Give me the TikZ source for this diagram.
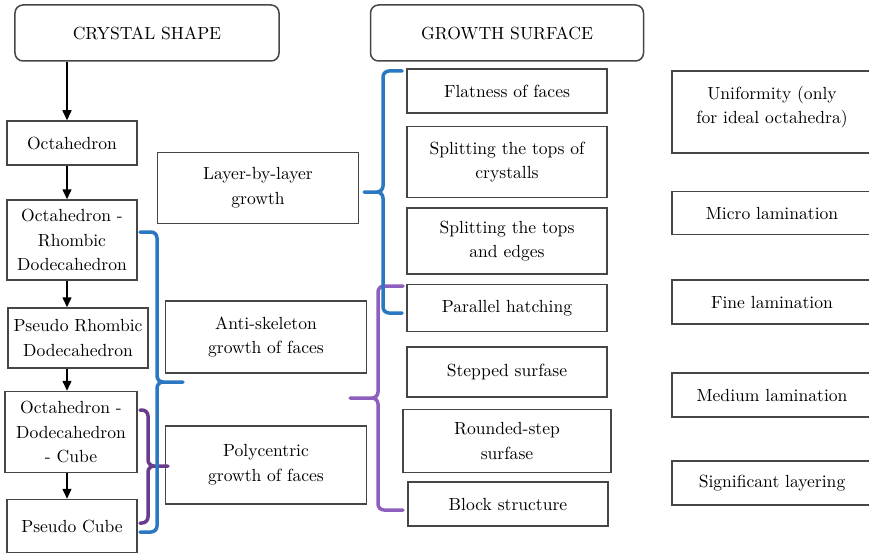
\documentclass[tikz,border=0pt]{standalone}
\usepackage{tikz}
\usetikzlibrary{arrows.meta}

\definecolor{braceblue}{RGB}{43,120,194}
\definecolor{bracepurple}{RGB}{106,60,140}
\definecolor{bracelilac}{RGB}{143,95,191}
\definecolor{boxgray}{RGB}{70,70,70}

\begin{document}
\begin{tikzpicture}[x=0.2mm,y=-0.2mm,>={Triangle[length=2mm,width=1.8mm]},
  font=\rmfamily\fontsize{10}{14}\selectfont,
  box/.style={draw=boxgray,line width=0.3mm,align=center,inner sep=0.6mm},
  head/.style={box,rounded corners=1.6mm,minimum height=11.2mm},
  flow/.style={->,line width=0.3mm},
  bline/.style={line width=0.7mm,rounded corners=1.2mm,line cap=round}]
  \useasboundingbox (0,0) rectangle (869,555);
  % column headers
  \node[head,minimum width=52.8mm] (crystal) at (147,33) {CRYSTAL SHAPE};
  \node[head,minimum width=54.6mm] (growth) at (507,33) {GROWTH SURFACE};
  % crystal shapes, one under the other
  \node[box,minimum width=26mm,minimum height=8.8mm] (octa) at (72,143) {Octahedron};
  \node[box,minimum width=26mm,minimum height=16mm] (odr) at (72,240) {Octahedron -\\Rhombic\\Dodecahedron};
  \node[box,minimum width=28mm,minimum height=12mm] (prd) at (78,338) {Pseudo Rhombic\\Dodecahedron};
  \node[box,minimum width=26.4mm,minimum height=16.2mm] (odc) at (71,432) {Octahedron -\\Dodecahedron\\- Cube};
  \node[box,minimum width=26mm,minimum height=10.6mm] (pc) at (72,526) {Pseudo Cube};
  \coordinate (spine) at (67,0);
  \draw[flow] (crystal.south -| spine) -- (octa.north -| spine);
  \foreach \a/\b in {octa/odr,odr/prd,prd/odc,odc/pc}
    \draw[flow] (\a.south -| spine) -- (\b.north -| spine);
  % growth mechanisms
  \node[box,minimum width=40.2mm,minimum height=14.2mm] (layer) at (258,188) {Layer-by-layer\\growth};
  \node[box,minimum width=40.2mm,minimum height=14.4mm] (anti) at (266,337) {Anti-skeleton\\growth of faces};
  \node[box,minimum width=40.2mm,minimum height=15.6mm] (poly) at (266,465) {Polycentric\\growth of faces};
  % surface features
  \node[box,minimum width=40mm,minimum height=8.8mm] (flat) at (507,91) {Flatness of faces};
  \node[box,minimum width=40mm,minimum height=14.2mm] (tops) at (507,162) {Splitting the tops of\\crystalls};
  \node[box,minimum width=40mm,minimum height=13.2mm] (edges) at (507,241) {Splitting the tops\\and edges};
  \node[box,minimum width=40mm,minimum height=9.4mm] (hatch) at (507,308) {Parallel hatching};
  \node[box,minimum width=40mm,minimum height=10mm] (stepped) at (507,372) {Stepped surfase};
  \node[box,minimum width=41.6mm,minimum height=12.6mm] (rstep) at (507,441) {Rounded-step\\surfase};
  \node[box,minimum width=40mm,minimum height=8.8mm] (block) at (508,504) {Block structure};
  % lamination types
  \node[box,minimum width=40mm,minimum height=16.4mm] (unif) at (772,112) {};
  \node[align=center] (uniftext) at (772,107) {Uniformity (only\\for ideal octahedra)};
  \node[box,minimum width=40mm,minimum height=8.6mm] (micro) at (772,213) {Micro lamination};
  \node[box,minimum width=40mm,minimum height=8.8mm] (fine) at (772,302) {Fine lamination};
  \node[box,minimum width=40mm,minimum height=8.8mm] (medium) at (772,395) {Medium lamination};
  \node[box,minimum width=40mm,minimum height=8.8mm] (signif) at (772,483) {Significant layering};
  % braces grouping the boxes
  \draw[bline,bracepurple] (140,410) -- (148,410) -- (148,466) -- (168,466)
    (168,466) -- (148,466) -- (148,523) -- (140,523);
  \draw[bline,braceblue] (140,232) -- (157,232) -- (157,382) -- (183,382)
    (183,382) -- (157,382) -- (157,532) -- (140,532);
  \draw[bline,bracelilac] (403,286) -- (378,286) -- (378,398) -- (350,398)
    (350,398) -- (378,398) -- (378,510) -- (403,510);
  \draw[bline,braceblue] (402,71) -- (383,71) -- (383,192) -- (364,192)
    (364,192) -- (383,192) -- (383,313) -- (402,313);
\end{tikzpicture}
\end{document}
